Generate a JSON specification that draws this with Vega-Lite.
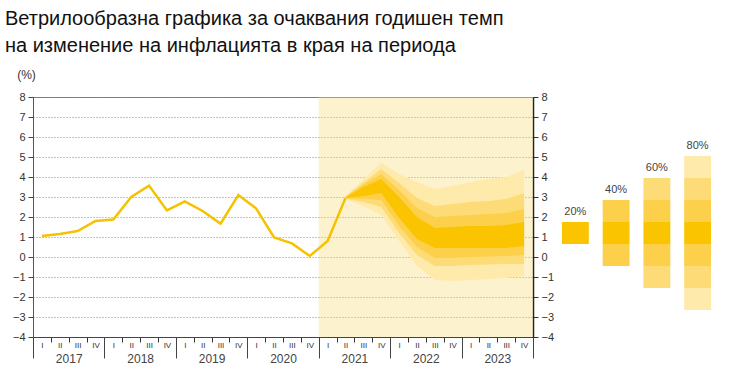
{
  "$schema": "https://vega.github.io/schema/vega-lite/v6.json",
  "padding": {"left": 4, "top": 8, "right": 5, "bottom": 4},
  "title": {
    "text": ["Ветрилообразна графика за очаквания годишен темп", "на изменение на инфлацията в края на периода"],
    "anchor": "start",
    "frame": "bounds",
    "font": "Liberation Sans",
    "fontSize": 20,
    "fontWeight": "normal",
    "color": "#111111",
    "lineHeight": 27,
    "offset": 12,
    "dx": -7
  },
  "datasets": {
    "hist": [
      {"t": 2017.125, "v": 1.05}, {"t": 2017.375, "v": 1.15}, {"t": 2017.625, "v": 1.3}, {"t": 2017.875, "v": 1.8},
      {"t": 2018.125, "v": 1.87}, {"t": 2018.375, "v": 3.0}, {"t": 2018.625, "v": 3.57}, {"t": 2018.875, "v": 2.33},
      {"t": 2019.125, "v": 2.78}, {"t": 2019.375, "v": 2.3}, {"t": 2019.625, "v": 1.67}, {"t": 2019.875, "v": 3.1},
      {"t": 2020.125, "v": 2.42}, {"t": 2020.375, "v": 0.98}, {"t": 2020.625, "v": 0.68}, {"t": 2020.875, "v": 0.05},
      {"t": 2021.125, "v": 0.8}, {"t": 2021.375, "v": 2.95}
    ],
    "fan": [
      {"t": 2021.375, "lo80": 2.9, "lo60": 2.92, "lo40": 2.94, "lo20": 2.95, "hi20": 2.98, "hi40": 3.0, "hi60": 3.02, "hi80": 3.05},
      {"t": 2021.625, "lo80": 2.55, "lo60": 2.75, "lo40": 2.9, "lo20": 3.05, "hi20": 3.5, "hi40": 3.62, "hi60": 3.72, "hi80": 3.88},
      {"t": 2021.875, "lo80": 2.1, "lo60": 2.5, "lo40": 2.85, "lo20": 3.2, "hi20": 3.9, "hi40": 4.15, "hi60": 4.4, "hi80": 4.72},
      {"t": 2022.125, "lo80": 0.8, "lo60": 1.2, "lo40": 1.55, "lo20": 1.95, "hi20": 3.0, "hi40": 3.35, "hi60": 3.7, "hi80": 4.15},
      {"t": 2022.375, "lo80": -0.45, "lo60": 0.1, "lo40": 0.5, "lo20": 0.9, "hi20": 2.0, "hi40": 2.45, "hi60": 2.95, "hi80": 3.75},
      {"t": 2022.625, "lo80": -1.15, "lo60": -0.45, "lo40": -0.05, "lo20": 0.45, "hi20": 1.45, "hi40": 2.0, "hi60": 2.55, "hi80": 3.4},
      {"t": 2022.875, "lo80": -1.2, "lo60": -0.45, "lo40": -0.05, "lo20": 0.45, "hi20": 1.5, "hi40": 2.05, "hi60": 2.65, "hi80": 3.55},
      {"t": 2023.125, "lo80": -1.15, "lo60": -0.4, "lo40": 0.0, "lo20": 0.45, "hi20": 1.55, "hi40": 2.1, "hi60": 2.75, "hi80": 3.75},
      {"t": 2023.375, "lo80": -1.1, "lo60": -0.38, "lo40": 0.02, "lo20": 0.45, "hi20": 1.55, "hi40": 2.15, "hi60": 2.8, "hi80": 3.9},
      {"t": 2023.625, "lo80": -1.05, "lo60": -0.35, "lo40": 0.05, "lo20": 0.45, "hi20": 1.6, "hi40": 2.2, "hi60": 2.9, "hi80": 4.0},
      {"t": 2023.875, "lo80": -0.95, "lo60": -0.35, "lo40": 0.1, "lo20": 0.55, "hi20": 1.75, "hi40": 2.4, "hi60": 3.2, "hi80": 4.35}
    ],
    "legend": [
      {"col": "20%", "lvl": "20", "lo": 0.65, "hi": 1.75},
      {"col": "40%", "lvl": "40", "lo": -0.45, "hi": 0.65},
      {"col": "40%", "lvl": "20", "lo": 0.65, "hi": 1.75},
      {"col": "40%", "lvl": "40", "lo": 1.75, "hi": 2.85},
      {"col": "60%", "lvl": "60", "lo": -1.55, "hi": -0.45},
      {"col": "60%", "lvl": "40", "lo": -0.45, "hi": 0.65},
      {"col": "60%", "lvl": "20", "lo": 0.65, "hi": 1.75},
      {"col": "60%", "lvl": "40", "lo": 1.75, "hi": 2.85},
      {"col": "60%", "lvl": "60", "lo": 2.85, "hi": 3.95},
      {"col": "80%", "lvl": "80", "lo": -2.65, "hi": -1.55},
      {"col": "80%", "lvl": "60", "lo": -1.55, "hi": -0.45},
      {"col": "80%", "lvl": "40", "lo": -0.45, "hi": 0.65},
      {"col": "80%", "lvl": "20", "lo": 0.65, "hi": 1.75},
      {"col": "80%", "lvl": "40", "lo": 1.75, "hi": 2.85},
      {"col": "80%", "lvl": "60", "lo": 2.85, "hi": 3.95},
      {"col": "80%", "lvl": "80", "lo": 3.95, "hi": 5.05}
    ]
  },
  "hconcat": [
    {
      "width": 500,
      "height": 240,
      "view": {"stroke": "#777777", "strokeWidth": 1},
      "resolve": {"axis": {"x": "independent", "y": "independent"}},
      "layer": [
        {
          "data": {"values": [{"from": 2021, "to": 2024}]},
          "mark": {"type": "rect", "fill": "#FAD96E", "opacity": 0.34},
          "encoding": {
            "x": {"field": "from", "type": "quantitative", "scale": {"domain": [2017, 2024], "nice": false, "zero": false},
              "axis": {"orient": "bottom", "values": [2017, 2017.25, 2017.5, 2017.75, 2018, 2018.25, 2018.5, 2018.75, 2019, 2019.25, 2019.5, 2019.75, 2020, 2020.25, 2020.5, 2020.75, 2021, 2021.25, 2021.5, 2021.75, 2022, 2022.25, 2022.5, 2022.75, 2023, 2023.25, 2023.5, 2023.75, 2024],
                "labels": false, "tickSize": 5, "tickColor": "#333333", "domainColor": "#444444", "grid": false, "title": null}},
            "x2": {"field": "to"}
          }
        },
        {
          "data": {"name": "fan"},
          "mark": {"type": "area", "color": "#FEEAAA", "opacity": 1},
          "encoding": {
            "x": {"field": "t", "type": "quantitative",
              "axis": {"orient": "bottom", "values": [2017.125, 2017.375, 2017.625, 2017.875, 2018.125, 2018.375, 2018.625, 2018.875, 2019.125, 2019.375, 2019.625, 2019.875, 2020.125, 2020.375, 2020.625, 2020.875, 2021.125, 2021.375, 2021.625, 2021.875, 2022.125, 2022.375, 2022.625, 2022.875, 2023.125, 2023.375, 2023.625, 2023.875],
                "labelExpr": "['I','II','III','IV'][floor((datum.value - floor(datum.value)) * 4)]",
                "tickSize": 0, "domain": false, "grid": false, "labelFontSize": 8, "labelColor": "#333333", "labelPadding": 4, "labelFlush": false, "labelOverlap": false, "title": null}},
            "y": {"field": "lo80", "type": "quantitative", "stack": null, "scale": {"domain": [-4, 8], "nice": false, "zero": false},
              "axis": {"orient": "left", "values": [-4, -3, -2, -1, 0, 1, 2, 3, 4, 5, 6, 7, 8], "tickSize": 5, "tickColor": "#444444", "domainColor": "#555555",
                "labelFontSize": 11, "labelColor": "#333333", "labelPadding": 3,
                "grid": true, "gridDash": [1, 2], "gridColor": "#888888", "gridWidth": 1,
                "title": "(%)", "titleAngle": 0, "titleX": -7, "titleY": -19, "titleAlign": "center", "titleBaseline": "alphabetic", "titleFontSize": 12, "titleFontWeight": "normal", "titleColor": "#333333"}},
            "y2": {"field": "hi80"}
          }
        },
        {
          "data": {"name": "fan"},
          "mark": {"type": "area", "color": "#FDDC78", "opacity": 1},
          "encoding": {
            "x": {"field": "t", "type": "quantitative",
              "axis": {"orient": "bottom", "values": [2017, 2018, 2019, 2020, 2021, 2022, 2023, 2024], "labels": false, "tickSize": 21, "tickColor": "#444444", "domain": false, "grid": false, "title": null}},
            "y": {"field": "lo60", "type": "quantitative", "stack": null,
              "axis": {"orient": "right", "values": [-4, -3, -2, -1, 0, 1, 2, 3, 4, 5, 6, 7, 8], "tickSize": 5, "tickColor": "#333333", "domainColor": "#222222", "domainWidth": 1.5,
                "labelFontSize": 11, "labelColor": "#333333", "labelPadding": 3, "grid": false, "title": null}},
            "y2": {"field": "hi60"}
          }
        },
        {
          "data": {"name": "fan"},
          "mark": {"type": "area", "color": "#FCD04A", "opacity": 1},
          "encoding": {
            "x": {"field": "t", "type": "quantitative",
              "axis": {"orient": "bottom", "values": [2017.5, 2018.5, 2019.5, 2020.5, 2021.5, 2022.5, 2023.5],
                "labelExpr": "floor(datum.value) + ''", "tickSize": 0, "domain": false, "grid": false, "labelFontSize": 12, "labelColor": "#444444", "labelPadding": 16, "labelFlush": false, "labelOverlap": false, "title": null}},
            "y": {"field": "lo40", "type": "quantitative", "stack": null, "axis": null},
            "y2": {"field": "hi40"}
          }
        },
        {
          "data": {"name": "fan"},
          "mark": {"type": "area", "color": "#FBC400", "opacity": 1},
          "encoding": {
            "x": {"field": "t", "type": "quantitative", "axis": null},
            "y": {"field": "lo20", "type": "quantitative", "stack": null, "axis": null},
            "y2": {"field": "hi20"}
          }
        },
        {
          "data": {"name": "hist"},
          "mark": {"type": "line", "color": "#F5C200", "strokeWidth": 2.5, "strokeJoin": "miter"},
          "encoding": {
            "x": {"field": "t", "type": "quantitative", "axis": null},
            "y": {"field": "v", "type": "quantitative", "axis": null}
          }
        },
        {
          "mark": {"type": "rule", "color": "#555555", "strokeWidth": 1.3},
          "encoding": {
            "y": {"datum": 0, "type": "quantitative", "axis": null}
          }
        }
      ]
    },
    {
      "width": 163,
      "height": 240,
      "view": {"stroke": null},
      "data": {"name": "legend"},
      "layer": [
        {
          "mark": {"type": "rect"},
          "encoding": {
            "x": {"field": "col", "type": "nominal", "sort": ["20%", "40%", "60%", "80%"], "scale": {"paddingInner": 0.34, "paddingOuter": 0.17}, "axis": null},
            "y": {"field": "lo", "type": "quantitative", "scale": {"domain": [-4, 8], "nice": false, "zero": false}, "axis": null},
            "y2": {"field": "hi"},
            "color": {"field": "lvl", "type": "nominal", "scale": {"domain": ["20", "40", "60", "80"], "range": ["#FBC400", "#FCD04A", "#FDDC78", "#FEEAAA"]}, "legend": null}
          }
        },
        {
          "transform": [{"aggregate": [{"op": "max", "field": "hi", "as": "top"}], "groupby": ["col"]}],
          "mark": {"type": "text", "baseline": "bottom", "dy": -5, "fontSize": 11, "color": "#444444", "font": "Liberation Sans"},
          "encoding": {
            "x": {"field": "col", "type": "nominal", "sort": ["20%", "40%", "60%", "80%"]},
            "y": {"field": "top", "type": "quantitative"},
            "text": {"field": "col"}
          }
        }
      ]
    }
  ],
  "spacing": 22,
  "bounds": "flush",
  "config": {
    "font": "Liberation Sans",
    "axis": {"labelFont": "Liberation Sans", "titleFont": "Liberation Sans"}
  }
}
